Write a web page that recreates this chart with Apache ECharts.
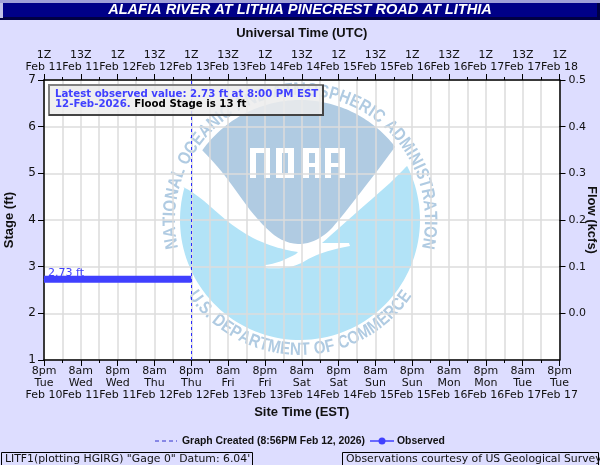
<!DOCTYPE html>
<html><head><meta charset="utf-8">
<style>html,body{margin:0;padding:0;background:#ddddff}#c{width:600px;height:465px}</style>
<script src="https://cdn.jsdelivr.net/npm/echarts@6/dist/echarts.min.js"></script>
</head><body><div id="c"></div>
<script>
const titleText = 'ALAFIA RIVER AT LITHIA PINECREST ROAD AT LITHIA';
const tickHours = [0,12,24,36,48,60,72,84,96,108,120,132,144,156,168];
const utcLabels = ['1Z\nFeb 11','13Z\nFeb 11','1Z\nFeb 12','13Z\nFeb 12','1Z\nFeb 13','13Z\nFeb 13','1Z\nFeb 14','13Z\nFeb 14','1Z\nFeb 15','13Z\nFeb 15','1Z\nFeb 16','13Z\nFeb 16','1Z\nFeb 17','13Z\nFeb 17','1Z\nFeb 18'];
const siteLabels = ['8pm\nTue\nFeb 10','8am\nWed\nFeb 11','8pm\nWed\nFeb 11','8am\nThu\nFeb 12','8pm\nThu\nFeb 12','8am\nFri\nFeb 13','8pm\nFri\nFeb 13','8am\nSat\nFeb 14','8pm\nSat\nFeb 14','8am\nSun\nFeb 15','8pm\nSun\nFeb 15','8am\nMon\nFeb 16','8pm\nMon\nFeb 16','8am\nTue\nFeb 17','8pm\nTue\nFeb 17'];
const flowTicks = [0,0.1,0.2,0.3,0.4,0.5];
const flowLabels = ['0.0','0.1','0.2','0.3','0.4','0.5'];
const observedHours = [0,1,2,3,4,5,6,7,8,9,10,11,12,13,14,15,16,17,18,19,20,21,22,23,24,25,26,27,28,29,30,31,32,33,34,35,36,37,38,39,40,41,42,43,44,45,46,47,48];
const observedStage = [2.73,2.73,2.73,2.73,2.73,2.73,2.73,2.73,2.73,2.73,2.73,2.73,2.73,2.73,2.73,2.73,2.73,2.73,2.73,2.73,2.73,2.73,2.73,2.73,2.73,2.73,2.73,2.73,2.73,2.73,2.73,2.73,2.73,2.73,2.73,2.73,2.73,2.73,2.73,2.73,2.73,2.73,2.73,2.73,2.73,2.73,2.73,2.73,2.73];
const graphCreatedHour = 48;
const latestLine1 = 'Latest observed value: 2.73 ft at 8:00 PM EST';
const latestLine2a = '12-Feb-2026.';
const latestLine2b = ' Flood Stage is 13 ft';
const pointLabel = '2.73 ft';
const legendCreated = 'Graph Created (8:56PM Feb 12, 2026)';
const legendObserved = 'Observed';
const footerLeft = 'LITF1(plotting HGIRG) "Gage 0" Datum: 6.04\'';
const footerRight = 'Observations courtesy of US Geological Survey';
const logoTop = 'NATIONAL OCEANIC AND ATMOSPHERIC ADMINISTRATION';
const logoBottom = 'U.S. DEPARTMENT OF COMMERCE';

const SANS='"DejaVu Sans"', ARIAL='"Liberation Sans"';
const BLUE='#4040ff', TXT='#111111', LOGO_D='#b0cbe2', LOGO_L='#b2e3f7';
const cx=300, cy=220, R=120;
const measure=document.createElement('canvas').getContext('2d');
function arcText(str,startDeg,endDeg,r,top){
  measure.font='bold 18px '+ARIAL;
  const w=[...str].map(c=>measure.measureText(c).width*0.84+0.5);
  const tot=w.reduce((a,b)=>a+b,0), span=endDeg-startDeg;
  let acc=0; const out=[];
  [...str].forEach((c,i)=>{
    const deg=startDeg+span*(acc+w[i]/2)/tot; acc+=w[i];
    const a=deg*Math.PI/180;
    out.push({type:'text',z:-1,silent:true,
      x:cx+r*Math.sin(a), y:top?cy-r*Math.cos(a):cy+r*Math.cos(a),
      rotation:top?-a:a, scaleX:0.84,
      style:{text:c,x:0,y:0,align:'center',verticalAlign:'middle',fill:LOGO_D,font:'bold 18px '+ARIAL}});
  });
  return out;
}
// logo outlines: start point, then cubic segments [c1x,c1y,c2x,c2y,x,y] or lines [x,y], closed by an arc
function outline(start,segs,a1,a2){
  const pts=[start]; let p=start;
  segs.forEach(s=>{
    if(s.length===2){pts.push(s);p=s;return;}
    for(let i=1;i<=12;i++){const t=i/12,u=1-t;
      pts.push([u*u*u*p[0]+3*u*u*t*s[0]+3*u*t*t*s[2]+t*t*t*s[4],u*u*u*p[1]+3*u*u*t*s[1]+3*u*t*t*s[3]+t*t*t*s[5]]);}
    p=[s[4],s[5]];
  });
  for(let i=0;i<=90;i++){const a=(a1+(a2-a1)*i/90)*Math.PI/180;pts.push([cx+R*Math.cos(a),cy+R*Math.sin(a)]);}
  return pts;
}
const darkPts=outline([202,150],[[225,173,235,190,250,210],[268,232,280,243,298,244],[312,244,322,238,332,228],[345,213,372,178,395,147]],-37.5,-144.5);
const lightPts=outline([183,187],[[205,197,222,222,253,238],[272,247,285,250,298,252],[296,254],[285,260,275,264,265,265],[265,268],[280,269,293,268,305,261],[320,252,335,249,350,246],[349,243],[335,243,325,243,322,243],[340,227,365,205,390,183],[398,175,403,170,407,166]],-26.8,195.8);
function rectEl(x,y,w,h,fill,z,extra){return Object.assign({type:'rect',z:z,silent:true,shape:{x,y,width:w,height:h},style:{fill}},extra||{});}
const noaaBlocks=[
 [250,148,20,5],[250,148,6,30],[264,148,6,30],
 [276,148,18,5],[276,173,18,5],[276,148,6,30],[288,148,6,30],
 [303,148,18,5],[303,163,18,4],[303,148,6,30],[315,148,6,30],
 [325,148,20,5],[325,163,20,4],[325,148,6,30],[339,148,6,30]
].map(b=>rectEl(b[0],b[1],b[2],b[3],'#ffffff',-1));

const graphics=[
 rectEl(44,80,515.5,280,'#ffffff',-2),
 {type:'polygon',z:-1,silent:true,shape:{points:darkPts},style:{fill:LOGO_D}},
 {type:'polygon',z:-1,silent:true,shape:{points:lightPts},style:{fill:LOGO_L}},
 ...noaaBlocks,
 ...arcText(logoTop,-103,103,130,true),
 ...arcText(logoBottom,-56,56,130,false),
 // title bar
 rectEl(0,0,600,3,'#a0a0d8',5),
 rectEl(0,3,600,17,'#000044',5),
 rectEl(0,3,3,15,'#c0c0e8',5),
 rectEl(3,3,594,14,'#000088',5),
 {type:'text',z:6,silent:true,x:300,y:10,style:{text:titleText,align:'center',verticalAlign:'middle',fill:'#fff',font:'italic bold 14.6px '+ARIAL}},
 // info box
 rectEl(49,85,274,30,'rgba(236,236,236,0.85)',10,{style:{fill:'rgba(236,236,236,0.85)',stroke:'#808080',lineWidth:2}}),
 rectEl(49,114,275,2,'#444444',11), rectEl(322,85,2,31,'#444444',11),
 {type:'text',z:12,silent:true,x:55,y:94.5,style:{text:latestLine1,fill:BLUE,font:'bold 10.2px '+SANS,verticalAlign:'middle'}},
 {type:'text',z:12,silent:true,x:55,y:104.5,style:{text:'{a|'+latestLine2a+'}{b|'+latestLine2b+'}',verticalAlign:'middle',rich:{a:{fill:BLUE,font:'bold 10.2px '+SANS},b:{fill:'#000',font:'bold 10.2px '+SANS}}}},
 // legend
 {type:'line',z:5,silent:true,shape:{x1:155,y1:441,x2:177,y2:441},style:{stroke:'#3333cc',lineWidth:1,lineDash:[4,3]}},
 {type:'text',z:5,silent:true,x:182,y:441,style:{text:legendCreated,fill:TXT,font:'bold 10.4px '+ARIAL,verticalAlign:'middle'}},
 {type:'line',z:5,silent:true,shape:{x1:370,y1:441,x2:394,y2:441},style:{stroke:BLUE,lineWidth:1.5}},
 {type:'circle',z:5,silent:true,shape:{cx:382,cy:441,r:3.5},style:{fill:BLUE}},
 {type:'text',z:5,silent:true,x:397,y:441,style:{text:legendObserved,fill:TXT,font:'bold 10.4px '+ARIAL,verticalAlign:'middle'}},
 // footers
 {type:'rect',z:5,silent:true,shape:{x:1.5,y:452.5,width:251,height:14},style:{fill:'#ddddff',stroke:'#000',lineWidth:1}},
 {type:'text',z:6,silent:true,x:5,y:459,style:{text:footerLeft,fill:TXT,font:'10.85px '+SANS,verticalAlign:'middle'}},
 {type:'rect',z:5,silent:true,shape:{x:342.5,y:452.5,width:256,height:14},style:{fill:'#ddddff',stroke:'#000',lineWidth:1}},
 {type:'text',z:6,silent:true,x:346,y:459,style:{text:footerRight,fill:TXT,font:'10.85px '+SANS,verticalAlign:'middle'}}
];

const axisLine={show:true,onZero:false,lineStyle:{color:'#000',width:1.5}};
const tick={show:true,length:6,lineStyle:{color:'#000',width:1}};
const minorTick={show:true,splitNumber:2,length:3,lineStyle:{color:'#000',width:1}};
const gridLine={show:true,lineStyle:{color:'#dcdcdc',width:1.5}};
const tickFont={color:TXT,fontFamily:SANS,fontSize:11};
const nameFont={color:TXT,fontFamily:ARIAL,fontWeight:'bold',fontSize:13};

const chart=echarts.init(document.getElementById('c'),null,{renderer:'canvas'});
chart.setOption({
 animation:false,
 backgroundColor:'#ddddff',
 graphic:graphics,
 grid:{left:44,right:40.5,top:80,bottom:105,outerBoundsMode:'none',containLabel:false,show:false},
 xAxis:[
  {type:'value',position:'bottom',min:0,max:168,interval:12,
   name:'Site Time (EST)',nameLocation:'middle',nameGap:44,nameTextStyle:nameFont,
   axisLine,axisTick:tick,minorTick,splitLine:gridLine,minorSplitLine:gridLine,
   axisLabel:Object.assign({},tickFont,{margin:5,lineHeight:12,width:34,hideOverlap:false,
     formatter:v=>siteLabels[tickHours.indexOf(v)]})},
  {type:'value',position:'top',min:0,max:168,interval:12,
   name:'Universal Time (UTC)',nameLocation:'middle',nameGap:40,nameTextStyle:nameFont,
   axisLine,axisTick:tick,minorTick,splitLine:{show:false},
   axisLabel:Object.assign({},tickFont,{margin:7,lineHeight:12,width:34,hideOverlap:false,
     formatter:v=>utcLabels[tickHours.indexOf(v)]})}
 ],
 yAxis:[
  {type:'value',position:'left',min:1,max:7,interval:1,
   name:'Stage (ft)',nameLocation:'middle',nameGap:28,nameTextStyle:nameFont,
   axisLine,axisTick:tick,splitLine:gridLine,axisLabel:Object.assign({},tickFont,{fontSize:12,margin:8})},
  {type:'value',position:'right',min:-0.1,max:0.5,interval:0.1,
   name:'Flow (kcfs)',nameLocation:'middle',nameGap:26,nameRotate:-90,nameMoveOverlap:false,nameTextStyle:nameFont,
   axisLine,
   axisTick:Object.assign({},tick,{customValues:flowTicks}),
   splitLine:{show:false},
   axisLabel:Object.assign({},tickFont,{margin:9,customValues:flowTicks,formatter:v=>flowLabels[flowTicks.findIndex(t=>Math.abs(t-v)<1e-6)]})}
 ],
 series:[{
  type:'line',xAxisIndex:0,yAxisIndex:0,
  data:observedHours.map((h,i)=>i===0?{value:[h,observedStage[i]],label:{show:true,formatter:pointLabel,position:'top',align:'left',distance:1,offset:[4,1],color:BLUE,fontFamily:SANS,fontSize:11}}:[h,observedStage[i]]),
  showSymbol:true,showAllSymbol:true,symbol:'circle',symbolSize:1,
  lineStyle:{color:BLUE,width:7,cap:'butt'},itemStyle:{color:BLUE},
  markLine:{silent:true,symbol:'none',label:{show:false},
   lineStyle:{color:'#2a2aff',type:[3,3],width:1},
   data:[{xAxis:graphCreatedHour}]}
 }]
});
</script></body></html>
